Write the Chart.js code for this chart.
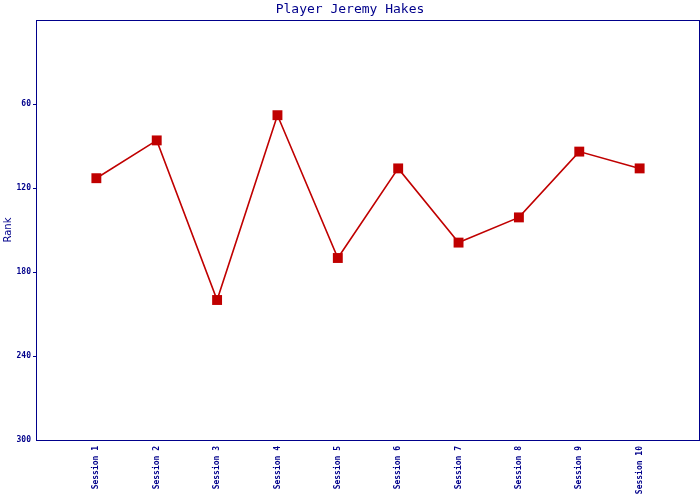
<!DOCTYPE html>
<html>
<head>
<meta charset="utf-8">
<script src="https://cdn.jsdelivr.net/npm/chart.js@4.4.1/dist/chart.umd.min.js"></script>
<style>
  html, body { margin: 0; padding: 0; background: #fff; }
  #wrap { width: 700px; height: 500px; }
</style>
</head>
<body>
<div id="wrap"><canvas id="rankChart" width="700" height="500"></canvas></div>
<script>
// --- chart data ---
const sessions = ['Session 1', 'Session 2', 'Session 3', 'Session 4', 'Session 5',
                  'Session 6', 'Session 7', 'Session 8', 'Session 9', 'Session 10'];
const ranks = [113, 86, 200, 68, 170, 106, 159, 141, 94, 106];
const rankTicks = [60, 120, 180, 240, 300];

const navy = '#00008B';
const red = '#C00000';

// frame round the plot area (top + right sides too)
const frame = {
    id: 'frame',
    afterDraw(chart) {
        const a = chart.chartArea;
        const ctx = chart.ctx;
        ctx.save();
        ctx.strokeStyle = navy;
        ctx.lineWidth = 1;
        ctx.strokeRect(Math.round(a.left) + 0.5, Math.round(a.top) + 0.5,
                       Math.round(a.right - a.left) - 1, Math.round(a.bottom - a.top));
        ctx.restore();
    }
};

const ctx = document.getElementById('rankChart').getContext('2d');
new Chart(ctx, {
    type: 'line',
    data: {
        datasets: [{
            label: 'Rank',
            data: ranks.map((r, i) => ({ x: i + 1, y: r })),
            borderColor: red,
            backgroundColor: red,
            borderWidth: 1.6,
            pointStyle: 'rect',
            pointRadius: 7,
            pointHoverRadius: 7,
            pointBorderWidth: 0,
            tension: 0
        }]
    },
    options: {
        responsive: false,
        animation: false,
        layout: { autoPadding: false, padding: { right: 0, top: 0, left: 0, bottom: 0 } },
        plugins: {
            legend: { display: false },
            tooltip: { enabled: false },
            title: {
                display: true,
                text: 'Player Jeremy Hakes',
                color: navy,
                font: { family: 'DejaVu Sans Mono', size: 13, weight: 'normal', lineHeight: 1 },
                padding: { top: 3, bottom: 4 }
            }
        },
        scales: {
            x: {
                type: 'linear',
                min: 0,
                max: sessions.length + 1,
                afterFit(scale) {
                    scale.height = 60;
                    scale.paddingLeft = 0;
                    scale.paddingRight = 0;
                },
                afterBuildTicks(scale) {
                    scale.ticks = sessions.map((s, i) => ({ value: i + 1 }));
                },
                grid: { display: false, drawTicks: false },
                border: { display: true, color: navy },
                ticks: {
                    color: navy,
                    autoSkip: false,
                    minRotation: 90,
                    maxRotation: 90,
                    padding: 6,
                    font: { family: 'DejaVu Sans Mono', size: 8, weight: 'bold' },
                    callback: (v) => sessions[v - 1] || ''
                }
            },
            y: {
                reverse: true,
                min: 0,
                max: 300,
                afterFit(scale) { scale.width = 36; },
                afterBuildTicks(scale) {
                    scale.ticks = rankTicks.map(v => ({ value: v }));
                },
                grid: {
                    drawOnChartArea: false,
                    drawTicks: true,
                    tickLength: 3,
                    tickColor: (c) => (c.tick && c.tick.value === 300) ? 'rgba(0,0,0,0)' : navy
                },
                border: { display: true, color: navy },
                title: {
                    display: true,
                    text: 'Rank',
                    color: navy,
                    font: { family: 'DejaVu Sans', size: 10 },
                    padding: { top: 2, bottom: 0 }
                },
                ticks: {
                    color: navy,
                    padding: 2,
                    font: { family: 'DejaVu Sans Mono', size: 8, weight: 'bold' }
                }
            }
        }
    },
    plugins: [frame]
});
</script>
</body>
</html>
